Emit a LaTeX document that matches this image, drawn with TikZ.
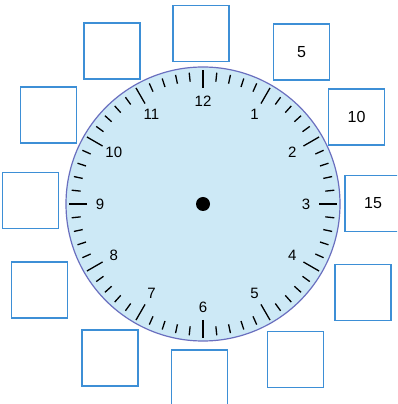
\documentclass[tikz,border=0pt]{standalone}
\usepackage{fontspec}
\setmainfont{Liberation Sans}
\usetikzlibrary{calc}
\definecolor{boxblue}{HTML}{3D8FD6}
\definecolor{rimblue}{HTML}{6A6FBF}
\definecolor{faceblue}{HTML}{CDE9F6}
\begin{document}
\begin{tikzpicture}[x=1pt,y=1pt,
  answerbox/.style={draw=boxblue, line width=1.4pt, fill=white, minimum width=56pt, minimum height=56pt, inner sep=0pt, font=\fontsize{16}{16}\selectfont},
  hourlabel/.style={font=\fontsize{15}{15}\selectfont, inner sep=0pt},
  tickline/.style={line width=1.3pt, black}]
\clip (0,0) rectangle (397,404);
\fill[white] (0,0) rectangle (397,404);
\coordinate (c) at (203,200);
\node[circle, draw=rimblue, fill=faceblue, line width=1.2pt, minimum size=274pt, inner sep=0pt] (face) at (c) {};
\foreach \i in {0,...,59}{
  \pgfmathtruncatemacro\m{mod(\i,5)}
  \ifnum\m=0
    \draw[tickline, shift={(c)}] (90-6*\i:116) -- (90-6*\i:134);
  \else
    \draw[tickline, shift={(c)}] (90-6*\i:123) -- (90-6*\i:132);
  \fi
}
\foreach \h in {1,...,12}{
  \node[hourlabel] (h\h) at ($(c)+(90-30*\h:103)$) {\h};
}
\node[circle, fill=black, minimum size=14pt, inner sep=0pt] (dot) at (c) {};
% answer boxes (pixel y converted: y = 404 - ypix)
\node[answerbox] (b0)  at (201,370.5) {};
\node[answerbox] (b5)  at (301.5,352) {5};
\node[answerbox] (b10) at (356.5,287) {10};
\node[answerbox] (b15) at (373,200.5) {15};
\node[answerbox] (b20) at (363,111.5) {};
\node[answerbox] (b25) at (295.5,44.5) {};
\node[answerbox] (b30) at (199.5,26) {};
\node[answerbox] (b35) at (110,46) {};
\node[answerbox] (b40) at (39.5,114) {};
\node[answerbox] (b45) at (30.5,203.5) {};
\node[answerbox] (b50) at (48.5,289) {};
\node[answerbox] (b55) at (112,353) {};
\end{tikzpicture}
\end{document}
